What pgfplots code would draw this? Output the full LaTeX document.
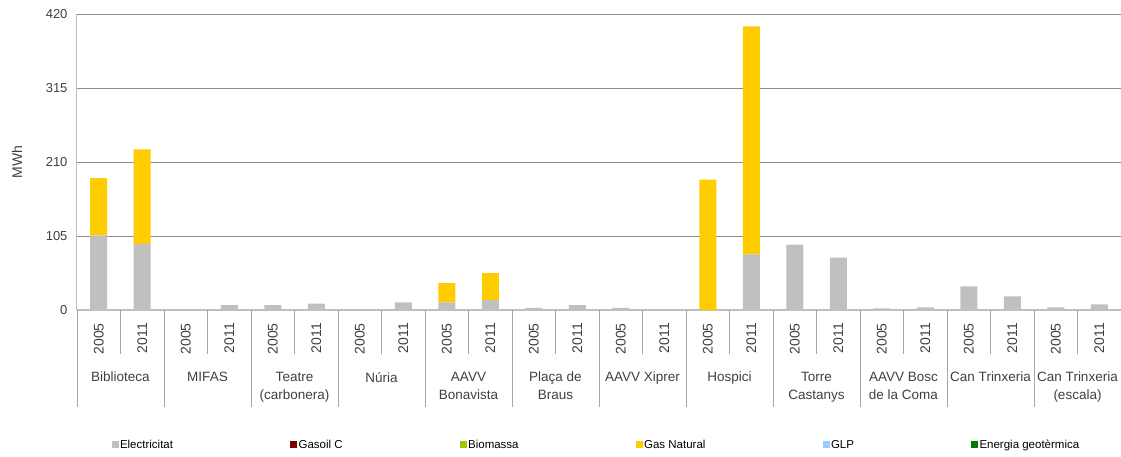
\documentclass[border=0pt]{standalone}
\usepackage{pgfplots}
\usepackage{pgfplotstable}
\pgfplotsset{compat=1.18}
\usepackage{fontspec}
\setmainfont{Liberation Sans}

\definecolor{elec}{HTML}{C0C0C0}
\definecolor{gasoil}{HTML}{800000}
\definecolor{biomassa}{HTML}{99CC00}
\definecolor{gasnat}{HTML}{FFCC00}
\definecolor{glp}{HTML}{99CCFF}
\definecolor{geo}{HTML}{008000}
\definecolor{txt}{HTML}{404040}
\definecolor{gridc}{HTML}{8C8C8C}
\definecolor{axisc}{HTML}{BFBFBF}
\definecolor{sepc}{HTML}{A6A6A6}

% Consum per equipament i any (MWh): x = posició de la barra
\pgfplotstableread{
x  elec   gas
0  106    81
1  94     134
2  0      0
3  7      0
4  7      0
5  9      0
6  0      0
7  11     0
8  11     27
9  14     38.5
10 3      0
11 7      0
12 3      0
13 0      0
14 0      185
15 79     323.5
16 92.7   0
17 74.3   0
18 2.4    0
19 3.8    0
20 33.6   0
21 19.4   0
22 3.8    0
23 8      0
}\consum

\pgfplotsset{
  sq/.style={legend image code/.code={\fill[##1, draw=none] (0pt,-3.5pt) rectangle (7pt,3.5pt);}},
}
\tikzset{
  grp/.style={anchor=north, align=center, inner sep=0pt, text=txt,
    font=\fontsize{13.5}{18}\selectfont, yshift=-62pt},
}

\begin{document}
\begin{tikzpicture}[font=\fontsize{13}{15}\selectfont]
\useasboundingbox (-77pt,-146pt) rectangle (1044pt,310pt);
\begin{axis}[
  at={(0,0)}, anchor=south west,
  scale only axis, width=1044pt, height=296pt,
  clip=false,
  ybar stacked, bar width=17pt,
  xmin=-0.5, xmax=23.5, ymin=0, ymax=420,
  ytick={0,105,210,315,420},
  xtick={0,...,23},
  xticklabels={2005,2011,2005,2011,2005,2011,2005,2011,2005,2011,2005,2011,
               2005,2011,2005,2011,2005,2011,2005,2011,2005,2011,2005,2011},
  xticklabel style={rotate=90, anchor=east, inner sep=0pt, text=txt,
    font=\fontsize{14}{16}\selectfont},
  xticklabel shift=13pt,
  yticklabel style={text=txt},
  yticklabel shift=6pt,
  major tick length=0pt,
  ymajorgrids, grid style={gridc, line width=0.8pt},
  axis x line*=bottom, axis y line*=left,
  x axis line style={axisc, line width=1.6pt, -},
  y axis line style={axisc, line width=1pt, -},
  ylabel={MWh},
  ylabel style={at={(axis description cs:-0.0575,0.5)}, anchor=center, text=txt,
    font=\fontsize{14}{16}\selectfont},
  /pgf/number format/assume math mode=true,
  legend style={at={(0.030,-0.456)}, anchor=west, draw=none, fill=none,
    legend columns=6, font=\fontsize{11.5}{13}\selectfont, text=black,
    /tikz/every even column/.append style={column sep=115.5pt},
    nodes={inner sep=1.5pt}},
]
\addplot[fill=elec, draw=none, sq] table[x=x, y=elec] {\consum};
\addlegendentry{Electricitat}
\addlegendimage{sq, fill=gasoil}
\addlegendentry{Gasoil C}
\addlegendimage{sq, fill=biomassa}
\addlegendentry{Biomassa}
\addplot[fill=gasnat, draw=none, sq] table[x=x, y=gas] {\consum};
\addlegendentry{Gas Natural}
\addlegendimage{sq, fill=glp}
\addlegendentry{GLP}
\addlegendimage{sq, fill=geo}
\addlegendentry{Energia geotèrmica}

% separadors de l'eix de categories
\pgfplotsinvokeforeach{-0.5,1.5,...,23.5}{
  \draw[sepc, line width=0.8pt] (axis cs:#1,0) -- ++(0pt,-97pt);
}
\pgfplotsinvokeforeach{0.5,2.5,...,22.5}{
  \draw[sepc, line width=0.8pt] (axis cs:#1,0) -- ++(0pt,-44pt);
}

% noms dels equipaments
\node[grp] at (axis cs:0.5,0)  {Biblioteca};
\node[grp] at (axis cs:2.5,0)  {MIFAS};
\node[grp] at (axis cs:4.5,0)  {Teatre\\(carbonera)};
\node[grp] at (axis cs:6.5,0)  {Núria};
\node[grp] at (axis cs:8.5,0)  {AAVV\\Bonavista};
\node[grp] at (axis cs:10.5,0) {Plaça de\\Braus};
\node[grp] at (axis cs:12.5,0) {AAVV Xiprer};
\node[grp] at (axis cs:14.5,0) {Hospici};
\node[grp] at (axis cs:16.5,0) {Torre\\Castanys};
\node[grp] at (axis cs:18.5,0) {AAVV Bosc\\de la Coma};
\node[grp] at (axis cs:20.5,0) {Can Trinxeria};
\node[grp] at (axis cs:22.5,0) {Can Trinxeria\\(escala)};
\end{axis}
\end{tikzpicture}
\end{document}
